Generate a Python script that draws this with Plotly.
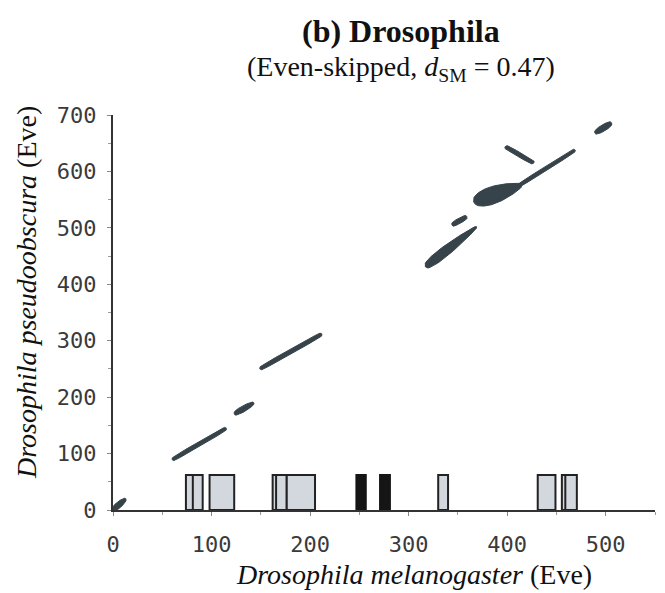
import numpy as np
import plotly.graph_objects as go

# ---------------- data ----------------
# dot-plot alignment segments (start/end in sequence coordinates)
seg_x0 = [0, 60, 123, 149, 317, 344, 366, 410, 398, 489]
seg_y0 = [0, 89, 170, 250, 431, 505, 546, 573, 644, 668]
seg_x1 = [13, 115, 143, 212, 369, 359, 415, 469, 427, 506]
seg_y1 = [20, 145, 190, 312, 502, 520, 576, 638, 615, 686]

# binding-site boxes on the melanogaster axis
light_x0 = [74, 81, 98, 162, 165.5, 176.3, 330, 431, 455.5, 459]
light_x1 = [84, 91, 123, 170, 176.3, 205, 340, 449, 464, 470.7]
dark_x0 = [247, 271]
dark_x1 = [256.5, 281]
box_height = 62

x_ticks = [0, 100, 200, 300, 400, 500]
y_ticks = [0, 100, 200, 300, 400, 500, 600, 700]

# ---------------- styles ----------------
W, H = 665, 593
ML, MR, MT, MB = 113, 10, 115, 83
XR, YR = [0, 550], [0, 700]
seg_halfwidth_px = [3.5, 2.2, 3.2, 2.3, 6.5, 2.6, 11, 2.0, 2.3, 3.2]
seg_taper = [0.3, 0.12, 0.3, 0.12, 0.35, 0.2, 0.45, 0.1, 0.12, 0.3]
seg_skew = [0.3, 0.0, 0.2, 0.0, 0.6, 0.0, 0.5, 0.0, 0.0, 0.0]
seg_color = "#37434a"

pw, ph = W - ML - MR, H - MT - MB
sx = pw / (XR[1] - XR[0])
sy = ph / (YR[1] - YR[0])

fig = go.Figure()


def lens(x0, y0, x1, y1, hw, p, skew):
    t = np.linspace(0, 1, 60)
    px0, py0, px1, py1 = x0 * sx, y0 * sy, x1 * sx, y1 * sy
    dx, dy = px1 - px0, py1 - py0
    L = np.hypot(dx, dy)
    nx, ny = -dy / L, dx / L
    w = hw * np.sin(np.pi * t) ** p * (1 - skew * t)
    cx = px0 + dx * t
    cy = py0 + dy * t
    xs = np.concatenate([cx + nx * w, (cx - nx * w)[::-1]]) / sx
    ys = np.concatenate([cy + ny * w, (cy - ny * w)[::-1]]) / sy
    return xs, ys


for a, b, c, d, hw, p, sk in zip(seg_x0, seg_y0, seg_x1, seg_y1,
                                 seg_halfwidth_px, seg_taper, seg_skew):
    xs, ys = lens(a, b, c, d, hw, p, sk)
    fig.add_trace(go.Scatter(x=xs, y=ys, mode="lines", fill="toself",
                             fillcolor=seg_color, line=dict(color=seg_color, width=1),
                             hoverinfo="skip", showlegend=False))

shapes = []
for a, b in zip(light_x0, light_x1):
    shapes.append(dict(type="rect", xref="x", yref="y", x0=a, x1=b, y0=0, y1=box_height,
                       fillcolor="#d3d7de", line=dict(color="#222222", width=2)))
for a, b in zip(dark_x0, dark_x1):
    shapes.append(dict(type="rect", xref="x", yref="y", x0=a, x1=b, y0=0, y1=box_height,
                       fillcolor="#151515", line=dict(color="#151515", width=2)))

tickfont = dict(family="DejaVu Sans Mono", size=22, color="#3a3a3a")
serif = "Liberation Serif"

fig.update_layout(
    width=W, height=H,
    margin=dict(l=ML, r=MR, t=MT, b=MB),
    paper_bgcolor="white", plot_bgcolor="white",
    shapes=shapes,
    xaxis=dict(range=XR, tickvals=x_ticks, ticktext=[str(v) for v in x_ticks],
               showgrid=False, zeroline=False, showline=True, linecolor="#333333", linewidth=2,
               ticks="outside", ticklen=4, tickcolor="#888888", tickwidth=1,
               minor=dict(dtick=50, tick0=0, ticks="outside", ticklen=3, tickcolor="#999999"),
               tickfont=tickfont, ticklabelstandoff=10),
    yaxis=dict(range=YR, tickvals=y_ticks, ticktext=[str(v) for v in y_ticks],
               showgrid=False, zeroline=False, showline=True, linecolor="#333333", linewidth=2,
               ticks="outside", ticklen=4, tickcolor="#888888", tickwidth=1,
               minor=dict(dtick=50, tick0=0, ticks="outside", ticklen=3, tickcolor="#999999"),
               tickfont=tickfont, ticklabelstandoff=6),
)


def px_to_paper(xp, yp):
    return (xp - ML) / pw, (H - MB - yp) / ph


ann = []
tx, ty = px_to_paper(401, 31)
ann.append(dict(text="<b>(b) Drosophila</b>", x=tx, y=ty, xref="paper", yref="paper",
                showarrow=False, xanchor="center", yanchor="middle",
                font=dict(family=serif, size=32, color="#111111")))
tx, ty = px_to_paper(401, 68)
ann.append(dict(text="(Even-skipped, <i>d</i><sub>SM</sub> = 0.47)", x=tx, y=ty, xref="paper", yref="paper",
                showarrow=False, xanchor="center", yanchor="middle",
                font=dict(family=serif, size=28, color="#111111")))
tx, ty = px_to_paper(414, 574)
ann.append(dict(text="<i>Drosophila melanogaster</i> (Eve)", x=tx, y=ty, xref="paper", yref="paper",
                showarrow=False, xanchor="center", yanchor="middle",
                font=dict(family=serif, size=28, color="#111111")))
tx, ty = px_to_paper(26, 293)
ann.append(dict(text="<i>Drosophila pseudoobscura</i> (Eve)", x=tx, y=ty, xref="paper", yref="paper",
                showarrow=False, xanchor="center", yanchor="middle", textangle=-90,
                font=dict(family=serif, size=28, color="#111111")))
fig.update_layout(annotations=ann)

fig.write_html("out.html")
